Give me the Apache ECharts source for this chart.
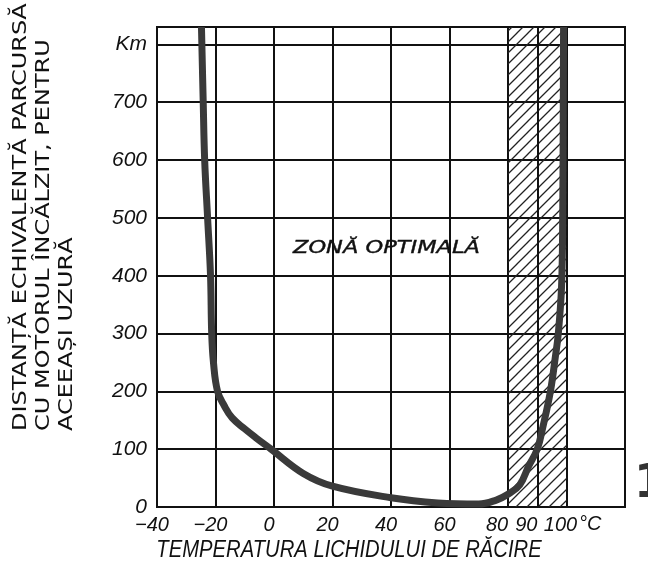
<!DOCTYPE html>
<html>
<head>
<meta charset="utf-8">
<script src="https://cdn.jsdelivr.net/npm/echarts@6/dist/echarts.min.js"></script>
<style>
  html, body { margin: 0; padding: 0; background: #fff; }
  #chart { width: 648px; height: 564px; }
</style>
</head>
<body>
<div id="chart"></div>
<script>
// coolant temperature (deg C) vs equivalent distance (km)
const temps = [-24.8, -24.2, -23.7, -22.7, -21.7, -21.3, -20.7, -19.3, -17, -14.3, -10, -6, -1, 10, 20, 40, 56, 70, 76, 80, 84, 87, 90, 92, 94.5, 96.2, 97.2, 98.3, 98.7, 99];
const km = [830, 700, 600, 500, 400, 300, 250, 200, 175, 154, 135, 119, 100, 58, 36, 16, 7, 5, 12, 22, 38, 70, 100, 140, 200, 260, 300, 380, 500, 830];

const xTicks = [-40, -20, 0, 20, 40, 60, 80, 90, 100];
const xTickLabels = ['\u221240', '\u221220', '0', '20', '40', '60', '80', '90', '100'];
const xUnit = '°C';
const yTicks = [0, 100, 200, 300, 400, 500, 600, 700, 800];
const yTickLabels = ['0', '100', '200', '300', '400', '500', '600', '700', 'Km'];

const optimalZone = [80, 100];
const extraLine = 90;

const ink = '#111';
const tickFont = 'Liberation Sans';

// diagonal hatch pattern
const hatch = document.createElement('canvas');
hatch.width = 11;
hatch.height = 11;
const hc = hatch.getContext('2d');
hc.strokeStyle = '#222';
hc.lineWidth = 1.3;
hc.beginPath();
hc.moveTo(-1, 12); hc.lineTo(12, -1);
hc.moveTo(-1, 1); hc.lineTo(1, -1);
hc.moveTo(10, 12); hc.lineTo(12, 10);
hc.stroke();

const labelStyle = (padRight) => ({
  fontFamily: tickFont, fontStyle: 'italic', fontSize: 20, color: '#111',
  padding: [0, padRight, 0, 0]
});

const chart = echarts.init(document.getElementById('chart'));

const option = {
  animation: false,
  grid: {
    left: 157, right: 23, top: 27, bottom: 57,
    show: true, borderColor: ink, borderWidth: 2
  },
  xAxis: {
    type: 'value',
    min: -40, max: 120, interval: 20,
    axisLine: { show: true, lineStyle: { color: ink, width: 2 } },
    axisTick: { show: false },
    splitLine: { show: true, lineStyle: { color: ink, width: 2 } },
    axisLabel: {
      customValues: xTicks,
      hideOverlap: false,
      margin: 8,
      color: '#111',
      fontFamily: tickFont,
      fontStyle: 'italic',
      fontSize: 20,
      formatter: v => {
        const s = xTickLabels[xTicks.indexOf(v)];
        if (v === 80 || v === 90) return '{b|' + s + '}';
        if (v === 100) return '{c|' + s + '}';
        return '{a|' + s + '}';
      },
      rich: { a: labelStyle(10), b: labelStyle(22), c: labelStyle(12) }
    }
  },
  yAxis: {
    type: 'value',
    min: 0, max: 830, interval: 100,
    axisLine: { show: true, lineStyle: { color: ink, width: 2 } },
    axisTick: { show: false },
    splitLine: { show: true, lineStyle: { color: ink, width: 2 } },
    axisLabel: {
      margin: 10,
      color: '#111',
      fontFamily: tickFont,
      fontStyle: 'italic',
      fontSize: 21,
      formatter: v => {
        const i = yTicks.indexOf(v);
        return i >= 0 ? yTickLabels[i] : '';
      }
    }
  },
  graphic: [
    {
      type: 'text',
      x: 9, y: 431,
      rotation: Math.PI / 2,
      scaleX: 1.2,
      style: {
        text: 'DISTANȚĂ ECHIVALENTĂ PARCURSĂ\nCU MOTORUL ÎNCĂLZIT, PENTRU\nACEEAȘI UZURĂ',
        fontFamily: 'DejaVu Sans', fontSize: 20, lineHeight: 23,
        fill: '#111', textAlign: 'left', textVerticalAlign: 'top'
      }
    },
    {
      type: 'text',
      x: 579, y: 514,
      style: {
        text: xUnit,
        fontFamily: tickFont, fontStyle: 'italic', fontSize: 20,
        fill: '#111', textAlign: 'left', textVerticalAlign: 'top'
      }
    },
    {
      type: 'text',
      x: 349, y: 551,
      scaleX: 0.88,
      style: {
        text: 'TEMPERATURA LICHIDULUI DE RĂCIRE',
        fontFamily: tickFont, fontStyle: 'italic', fontSize: 23,
        fill: '#111', textAlign: 'center', textVerticalAlign: 'middle'
      }
    },
    {
      type: 'text',
      x: 293, y: 248,
      scaleX: 1.25,
      style: {
        text: 'ZONĂ OPTIMALĂ',
        fontFamily: 'DejaVu Sans', fontStyle: 'italic', fontSize: 18,
        fill: '#111', stroke: '#111', lineWidth: 0.4,
        textAlign: 'left', textVerticalAlign: 'middle'
      }
    },
    {
      type: 'text',
      x: 634, y: 462,
      style: {
        text: '1',
        fontFamily: 'DejaVu Sans', fontWeight: 'bold', fontSize: 46,
        fill: '#333'
      }
    }
  ],
  series: [
    {
      type: 'line',
      data: temps.map((t, i) => [t, km[i]]),
      showSymbol: false,
      smooth: 0.4,
      lineStyle: { color: '#3a3a3a', width: 7 },
      markArea: {
        silent: true,
        itemStyle: { color: { image: hatch, repeat: 'repeat' } },
        data: [[{ xAxis: optimalZone[0] }, { xAxis: optimalZone[1] }]]
      },
      markLine: {
        silent: true,
        symbol: ['none', 'none'],
        label: { show: false },
        lineStyle: { color: ink, width: 2, type: 'solid' },
        data: [{ xAxis: extraLine }]
      },
      z: 5
    }
  ]
};

chart.setOption(option);
</script>
</body>
</html>
